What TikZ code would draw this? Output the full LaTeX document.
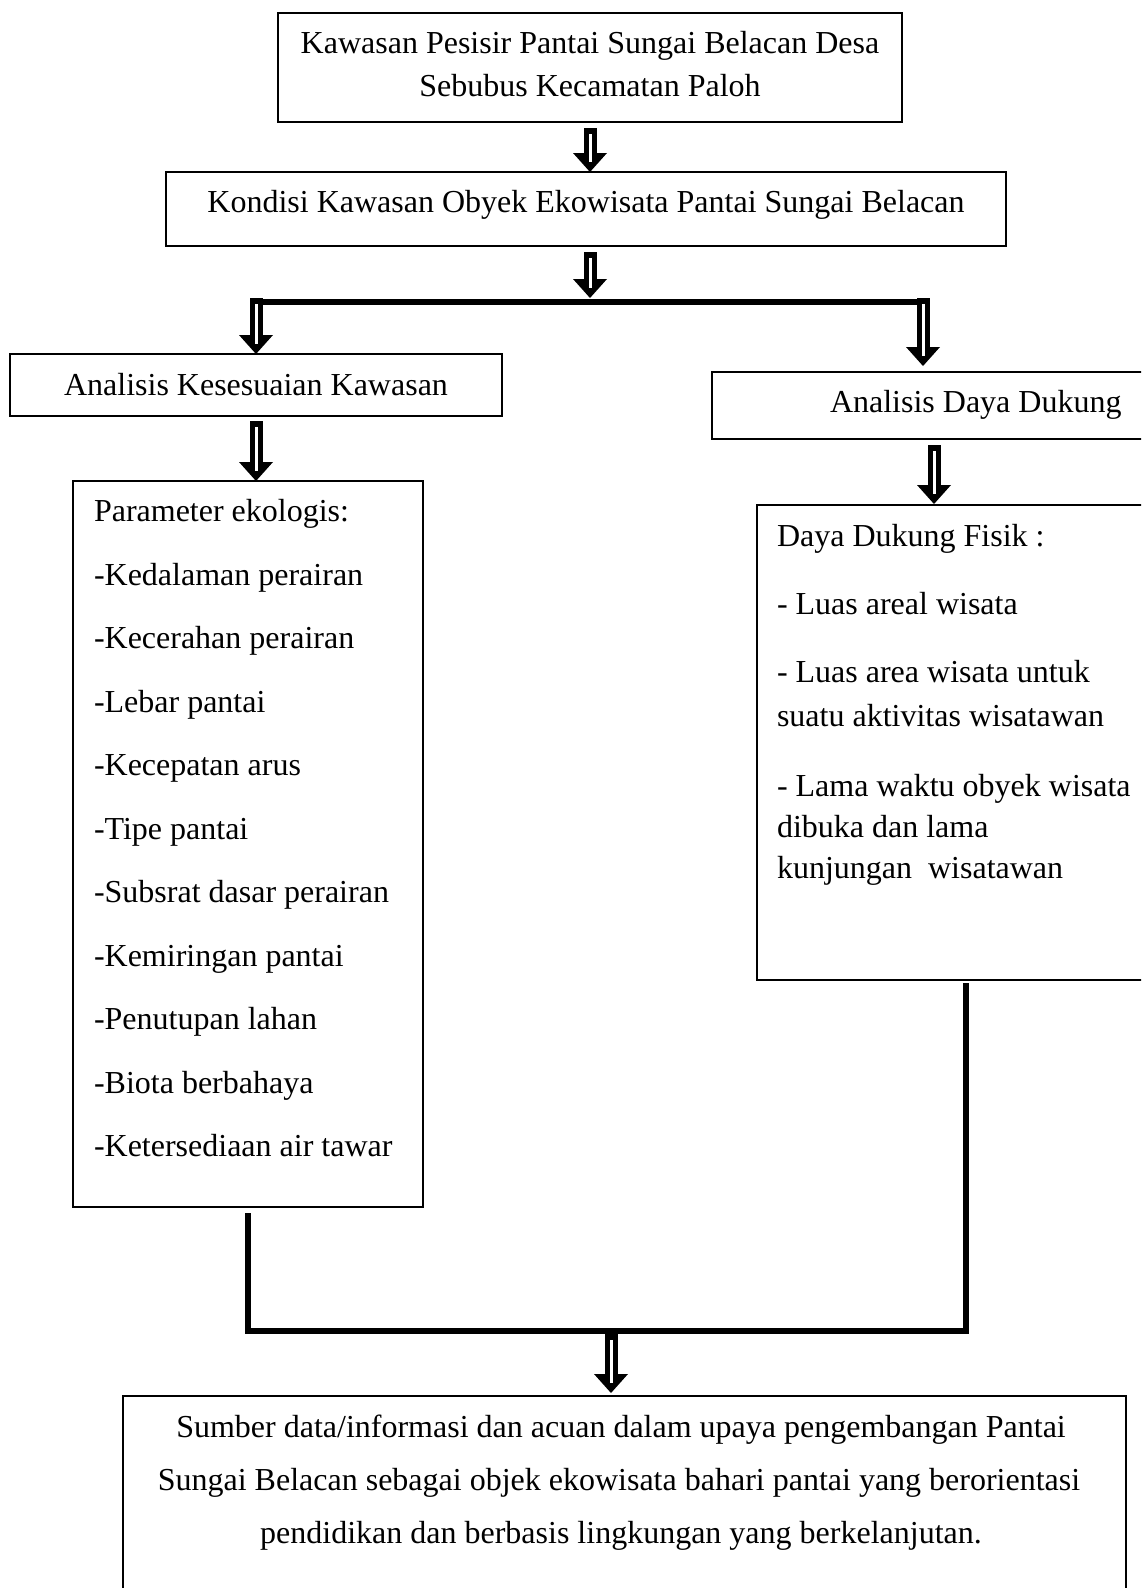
\documentclass[tikz,border=0pt]{standalone}
\usepackage{fontspec}
\setmainfont{Liberation Serif}
\usetikzlibrary{arrows.meta}
\tikzset{
  box/.style={draw, line width=1.6pt, inner sep=0pt, outer sep=0pt},
  txt/.style={font=\fontsize{32}{38}\selectfont, inner sep=0pt, outer sep=0pt},
  fat/.style={line width=13pt, -{Triangle[width=34pt,length=19pt,line width=0pt]},
    postaction={draw=white, line width=3pt, -, shorten <=6pt, shorten >=10pt}},
  barline/.style={line width=6.5pt, line join=miter}
}
\begin{document}
\begin{tikzpicture}[x=1pt,y=-1pt]
\clip (0,0) rectangle (1141,1588);
\fill[white] (0,0) rectangle (1141,1588);
% boxes
\node[box, minimum width=624pt, minimum height=109pt] (b1) at (590,67.5) {};
\node[box, minimum width=840pt, minimum height=74pt] (b2) at (586,209) {};
\node[box, minimum width=492pt, minimum height=62pt] (b3) at (256,385) {};
\node[box, minimum width=444pt, minimum height=67pt] (b4) at (934,405.5) {};
\node[box, minimum width=350pt, minimum height=726pt] (b5) at (248,844) {};
\node[box, minimum width=418pt, minimum height=475pt] (b6) at (966,742.5) {};
\node[box, minimum width=1003pt, minimum height=220pt] (b7) at (624.5,1506) {};
% texts
\node[txt, anchor=base] (t1a) at (590,53) {Kawasan Pesisir Pantai Sungai Belacan Desa};
\node[txt, anchor=base] (t1b) at (590,96) {Sebubus Kecamatan Paloh};
\node[txt, anchor=base] (t2) at (586,212) {Kondisi Kawasan Obyek Ekowisata Pantai Sungai Belacan};
\node[txt, anchor=base] (t3) at (256,395) {Analisis Kesesuaian Kawasan};
\node[txt, anchor=base west] (t4) at (830,412) {Analisis Daya Dukung};
\foreach \t [count=\i from 0] in {Parameter ekologis:,-Kedalaman perairan,-Kecerahan perairan,-Lebar pantai,-Kecepatan arus,-Tipe pantai,-Subsrat dasar perairan,-Kemiringan pantai,-Penutupan lahan,-Biota berbahaya,-Ketersediaan air tawar}
  \node[txt, anchor=base west] (p\i) at (94,{521.5+63.5*\i}) {\t};
\node[txt, anchor=base west] (d1) at (777,546) {Daya Dukung Fisik :};
\node[txt, anchor=base west] (d2) at (777,614) {- Luas areal wisata};
\node[txt, anchor=base west] (d3) at (777,682) {- Luas area wisata untuk};
\node[txt, anchor=base west] (d4) at (777,726) {suatu aktivitas wisatawan};
\node[txt, anchor=base west] (d5) at (777,796) {- Lama waktu obyek wisata};
\node[txt, anchor=base west] (d6) at (777,837) {dibuka dan lama};
\node[txt, anchor=base west] (d7) at (777,878) {kunjungan\ \ wisatawan};
\node[txt, anchor=base] (s1) at (621,1437) {Sumber data/informasi dan acuan dalam upaya pengembangan Pantai};
\node[txt, anchor=base] (s2) at (619,1490) {Sungai Belacan sebagai objek ekowisata bahari pantai yang berorientasi};
\node[txt, anchor=base] (s3) at (621,1543) {pendidikan dan berbasis lingkungan yang berkelanjutan.};
% junction coordinates
\coordinate (jt) at (590,298);
\coordinate (jl) at (256,302);
\coordinate (jr) at (923,302);
\coordinate (jb) at (611,1331);
% connectors
\draw[fat] ([yshift=-6pt]b1.south) -- (b1.south |- b2.north);
\draw[fat] ([yshift=-6pt]b2.south -| jt) -- (jt);
\draw[barline] ([xshift=-6pt]jl) -- ([xshift=7pt]jr);
\draw[fat] ([yshift=4pt]jl) -- (jl |- b3.north);
\draw[fat] ([yshift=4pt]jr) -- ([yshift=6pt]jr |- b4.north);
\draw[fat] ([yshift=-5pt]b3.south) -- (b3.south |- b5.north);
\draw[fat] ([yshift=-6pt]b4.south) -- ([yshift=1pt]b4.south |- b6.north);
\draw[barline] ([yshift=-6pt]b5.south) |- (jb) -| ([yshift=-3pt]b6.south);
\draw[fat] ([yshift=-3pt]jb) -- ([yshift=3pt]jb |- b7.north);
\end{tikzpicture}
\end{document}
